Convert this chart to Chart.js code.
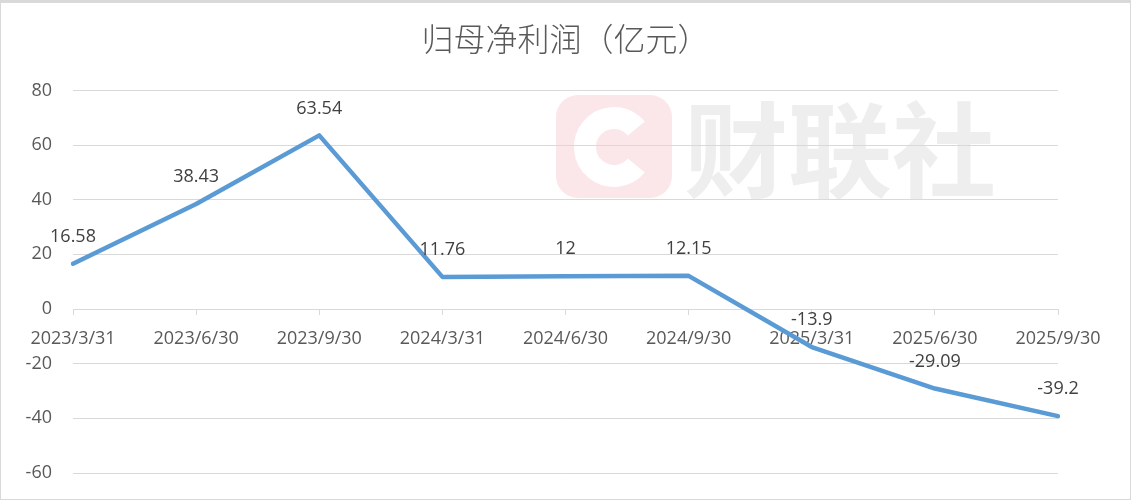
<!DOCTYPE html>
<html>
<head>
<meta charset="utf-8">
<script src="https://cdn.jsdelivr.net/npm/chart.js@4.4.1/dist/chart.umd.min.js"></script>
<style>
  html, body { margin: 0; padding: 0; background: #fff; }
  #wrap { width: 1131px; height: 500px; position: relative; }
</style>
</head>
<body>
<div id="wrap"><canvas id="chart"></canvas></div>
<script>
// chart data
const chartTitle = "归母净利润（亿元）";
const periods = ["2023/3/31", "2023/6/30", "2023/9/30", "2024/3/31", "2024/6/30",
  "2024/9/30", "2025/3/31", "2025/6/30", "2025/9/30"];
const netProfit = [16.58, 38.43, 63.54, 11.76, 12, 12.15, -13.9, -29.09, -39.2];
const yMin = -60;
const yMax = 80;
const yStep = 20;
const watermarkText = "财联社";

const textFont = "'Open Sans', 'Noto Sans', sans-serif";

// frame + watermark behind everything
const backgroundPlugin = {
  id: "backgroundPlugin",
  beforeDraw(chart) {
    const ctx = chart.ctx;
    ctx.save();
    ctx.fillStyle = "#ffffff";
    ctx.fillRect(0, 0, chart.width, chart.height);

    // watermark logo
    const bx = 556, by = 95, bw = 116, bh = 103, r = 22;
    ctx.fillStyle = "#fbe7ea";
    ctx.beginPath();
    ctx.roundRect(bx, by, bw, bh, r);
    ctx.fill();
    ctx.strokeStyle = "#ffffff";
    ctx.lineWidth = 22;
    ctx.beginPath();
    ctx.arc(bx + 58, by + 52, 29, Math.PI * 0.22, Math.PI * 1.78);
    ctx.stroke();

    ctx.fillStyle = "#eeeeee";
    ctx.font = "bold 104px 'Noto Sans CJK SC'";
    ctx.textAlign = "left";
    ctx.textBaseline = "middle";
    ctx.fillText(watermarkText, 684, 150);

    // outer frame
    ctx.strokeStyle = "#d9d9d9";
    ctx.lineWidth = 1;
    ctx.strokeRect(0.5, 0.5, chart.width - 1, chart.height - 1);
    ctx.fillStyle = "#d9d9d9";
    ctx.fillRect(0, 0, chart.width, 3);
    ctx.restore();
  }
};

// value labels above each point
const valueLabels = {
  id: "valueLabels",
  afterDatasetsDraw(chart) {
    const ctx = chart.ctx;
    const meta = chart.getDatasetMeta(0);
    ctx.save();
    ctx.font = "18px " + textFont;
    ctx.fillStyle = "#404040";
    ctx.textAlign = "center";
    ctx.textBaseline = "middle";
    meta.data.forEach((pt, i) => {
      ctx.fillText(String(netProfit[i]), pt.x, pt.y - 27);
    });
    ctx.restore();
  }
};

const config = {
  type: "line",
  data: {
    labels: periods,
    datasets: [
      {
        label: "归母净利润",
        data: netProfit,
        borderColor: "#5b9bd5",
        borderWidth: 4.5,
        borderJoinStyle: "round",
        borderCapStyle: "round",
        pointRadius: 0,
        tension: 0,
        fill: false,
      },
    ],
  },
  options: {
    responsive: true,
    maintainAspectRatio: false,
    animation: false,
    layout: {
      padding: { left: 0, right: 0, top: 0, bottom: 27 },
    },
    plugins: {
      legend: { display: false },
      tooltip: { enabled: false },
      title: {
        display: true,
        text: chartTitle,
        color: "#595959",
        font: { family: "'Noto Sans CJK SC'", size: 32, weight: 300 },
        padding: { top: 20, bottom: 32 },
      },
    },
    scales: {
      x: {
        type: "category",
        position: { y: 0 },
        offset: false,
        grid: {
          drawOnChartArea: false,
          drawTicks: true,
          tickLength: 5,
          color: "#d9d9d9",
        },
        border: { display: true, color: "#d9d9d9", width: 1 },
        ticks: {
          color: "#595959",
          font: { family: textFont, size: 18 },
          padding: 14,
          maxRotation: 0,
          autoSkip: false,
        },
      },
      y: {
        min: yMin,
        max: yMax,
        afterFit(scale) {
          scale.width = 73;
          scale.paddingTop = 0;
          scale.paddingBottom = 0;
        },
        grid: {
          color: "#d9d9d9",
          lineWidth: 1,
          drawTicks: false,
        },
        border: { display: false },
        ticks: {
          stepSize: yStep,
          color: "#595959",
          font: { family: textFont, size: 18 },
          padding: 21,
        },
      },
      // empty right margin so the title centres on the whole canvas
      yRight: {
        position: "right",
        min: yMin,
        max: yMax,
        afterFit(scale) {
          scale.width = 73;
          scale.paddingTop = 0;
          scale.paddingBottom = 0;
        },
        grid: { drawOnChartArea: false, drawTicks: false },
        border: { display: false },
        ticks: { display: false },
      },
    },
  },
  plugins: [backgroundPlugin, valueLabels],
};

new Chart(document.getElementById("chart"), config);
</script>
</body>
</html>
